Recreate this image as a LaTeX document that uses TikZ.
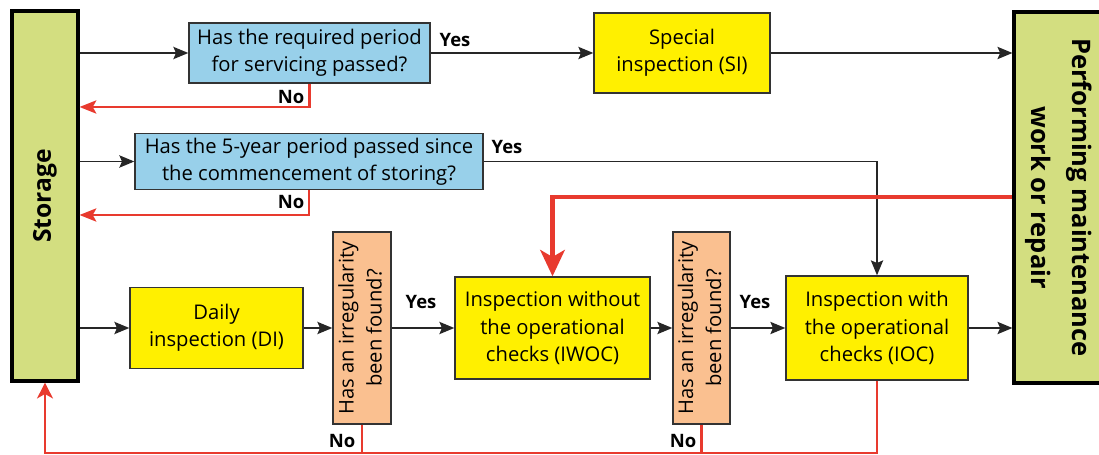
\documentclass[tikz,border=0pt]{standalone}
\usepackage{fontspec}
\setmainfont{Open Sans}
\usepackage{graphicx}
\usetikzlibrary{arrows.meta}

\definecolor{storegreen}{RGB}{211,222,128}
\definecolor{queryblue}{RGB}{152,208,234}
\definecolor{stepyellow}{RGB}{255,240,0}
\definecolor{checkorange}{RGB}{250,192,144}
\definecolor{backred}{RGB}{232,58,46}

\begin{document}
\begin{tikzpicture}[
		every node/.style={rectangle, draw=black!80, line width=0.8pt, align=center, inner sep=0pt,
			font=\fontsize{11.5}{15.5}\selectfont},
		stage/.style={fill=storegreen, draw=black, line width=1.8pt, font=\bfseries\fontsize{14.5}{23.5}\selectfont},
		query/.style={fill=queryblue},
		work/.style={fill=stepyellow},
		check/.style={fill=checkorange, font=\fontsize{11.5}{16}\selectfont},
		answer/.style={draw=none, fill=none, font=\bfseries\fontsize{10.5}{12}\selectfont},
		flow/.style={draw=black!85, line width=0.8pt, -{Stealth[length=8.5pt, width=7pt, inset=1.5pt]}},
		refuse/.style={draw=backred, line width=1.3pt, -{Stealth[length=9.5pt, width=7.5pt, inset=2pt]}},
		repair/.style={draw=backred, line width=2.4pt, -{Stealth[length=15pt, width=14pt, inset=4pt]}},
		goback/.style={draw=backred, line width=1.2pt}
	]
  \useasboundingbox (0,0) rectangle (21.98cm, -9.10cm);
  \clip (0,0) rectangle (21.98cm, -9.10cm);

  \node (storage) [stage, minimum width=1.32cm, minimum height=7.40cm, font=\bfseries\fontsize{14}{17}\selectfont] at (0.9cm, -3.92cm) {\rotatebox{90}{Storage}};
  \node (perform) [stage, minimum width=1.84cm, minimum height=7.42cm] at (21.2cm, -3.95cm) {\rotatebox{-90}{\begin{tabular}{@{}c@{}}Performing maintenance\\work or repair\end{tabular}}};

  \node (q1) [query, minimum width=4.82cm, minimum height=1.20cm] at (6.19cm, -1.06cm) {Has the required period\\for servicing passed?};
  \node (si) [work, minimum width=3.52cm, minimum height=1.60cm] at (13.64cm, -1.06cm) {Special\\inspection (SI)};
  \node (q2) [query, minimum width=6.96cm, minimum height=1.12cm] at (6.18cm, -3.23cm) {Has the 5-year period passed since\\the commencement of storing?};

  \node (di) [work, minimum width=3.46cm, minimum height=1.62cm] at (4.33cm, -6.56cm) {Daily\\inspection (DI)};
  \node (irr1) [check, minimum width=1.16cm, minimum height=3.84cm] at (7.24cm, -6.56cm) {\rotatebox{90}{\begin{tabular}{@{}c@{}}Has an irregularity\\been found?\end{tabular}}};
  \node (iwoc) [work, minimum width=3.90cm, minimum height=2.04cm] at (11.05cm, -6.56cm) {Inspection without\\the operational\\checks (IWOC)};
  \node (irr2) [check, minimum width=1.14cm, minimum height=3.84cm] at (14.03cm, -6.56cm) {\rotatebox{90}{\begin{tabular}{@{}c@{}}Has an irregularity\\been found?\end{tabular}}};
  \node (ioc) [work, minimum width=3.64cm, minimum height=2.08cm] at (17.54cm, -6.56cm) {Inspection with\\the operational\\checks (IOC)};

  \node (yes1) [answer] at (9.10cm, -0.80cm) {Yes};
  \node (yes2) [answer] at (10.14cm, -2.94cm) {Yes};
  \node (yes3) [answer] at (8.42cm, -6.04cm) {Yes};
  \node (yes4) [answer] at (15.10cm, -6.04cm) {Yes};
  \node (no1) [answer] at (5.82cm, -1.94cm) {No};
  \node (no2) [answer] at (5.82cm, -4.04cm) {No};
  \node (no3) [answer] at (6.84cm, -8.82cm) {No};
  \node (no4) [answer] at (13.66cm, -8.82cm) {No};

  \coordinate (q1no) at (6.19cm, -2.14cm);
  \coordinate (q2no) at (6.18cm, -4.30cm);
  \coordinate (fix) at (11.05cm, -3.94cm);
  \coordinate (back) at (0.9cm, -9.06cm);

  \draw [flow] (q1.west -| storage.east) -- (q1.west);
  \draw [flow] (q1) -- (si);
  \draw [flow] (si) -- (si -| perform.west);
  \draw [flow] (q2.west -| storage.east) -- (q2.west);
  \draw [flow] (q2.east) -| (ioc.north);
  \draw [flow] (di.west -| storage.east) -- (di.west);
  \draw [flow] (di) -- (irr1);
  \draw [flow] (irr1) -- (iwoc);
  \draw [flow] (iwoc) -- (irr2);
  \draw [flow] (irr2) -- (ioc);
  \draw [flow] (ioc) -- (ioc -| perform.west);

  \draw [refuse] (q1.south) -- (q1no) -- (q1no -| storage.east);
  \draw [refuse] (q2.south) -- (q2no) -- (q2no -| storage.east);
  \draw [repair] (fix -| perform.west) -- (fix) -- (iwoc.north);

  \draw [goback] (irr1.south) -- (irr1.south |- back);
  \draw [goback] (irr2.south) -- (irr2.south |- back);
  \draw [goback, -{Stealth[length=9pt, width=9pt, inset=2.5pt]}] (ioc.south) |- (back) -- (storage.south);
\end{tikzpicture}
\end{document}
